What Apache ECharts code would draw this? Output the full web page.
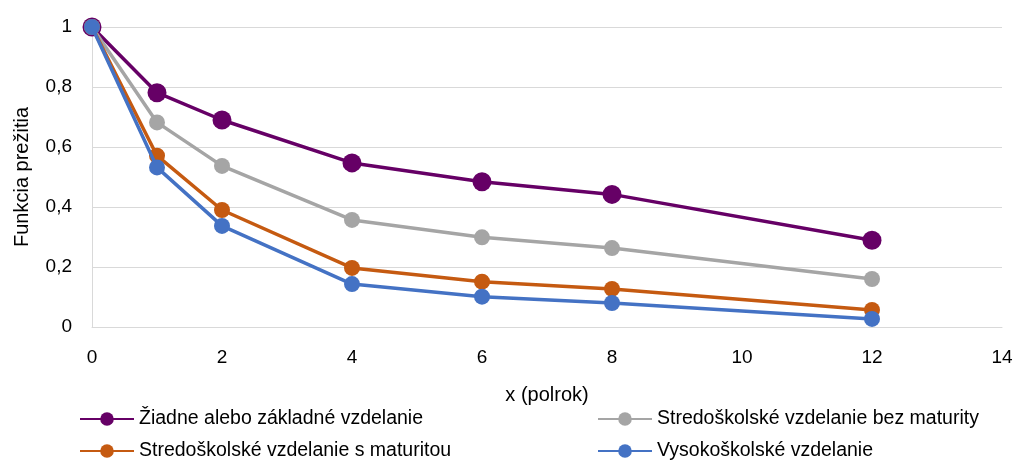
<!DOCTYPE html>
<html><head><meta charset="utf-8">
<script src="https://cdn.jsdelivr.net/npm/echarts@6/dist/echarts.min.js"></script>
<style>html,body{margin:0;padding:0;background:#fff}#c{width:1022px;height:464px}</style>
</head><body><div id="c"></div>
<script>
const xValues = [0, 1, 2, 4, 6, 8, 12];
const seriesNames = ['Žiadne alebo základné vzdelanie', 'Stredoškolské vzdelanie bez maturity', 'Stredoškolské vzdelanie s maturitou', 'Vysokoškolské vzdelanie'];
const zakladne = [1, 0.781, 0.69, 0.547, 0.484, 0.442, 0.289];
const bezMaturity = [1, 0.682, 0.537, 0.357, 0.299, 0.263, 0.16];
const sMaturitou = [1, 0.571, 0.39, 0.197, 0.151, 0.127, 0.057];
const vysokoskolske = [1, 0.532, 0.337, 0.143, 0.101, 0.08, 0.027];
const colors = ['#660066', '#A5A5A5', '#C55A11', '#4472C4'];
const sizes = [19, 16, 16, 16];
const allData = [zakladne, bezMaturity, sMaturitou, vysokoskolske];
const FONT = '"Liberation Sans Narrow", "Arial Narrow", "Liberation Sans", Arial, sans-serif';

// legend slot: [left, centerY]
const legendPos = [[79, 420], [597, 420], [79, 452], [597, 452]];

const chart = echarts.init(document.getElementById('c'), null, {renderer: 'canvas'});
chart.setOption({
  animation: false,
  textStyle: {fontFamily: FONT},
  grid: {left: 92, right: 20, top: 27, bottom: 137, containLabel: false, outerBoundsMode: 'none'},
  xAxis: {
    type: 'value', min: 0, max: 14, interval: 2,
    name: 'x (polrok)', nameLocation: 'middle', nameGap: 58,
    nameTextStyle: {fontSize: 20, color: '#000', fontFamily: FONT},
    axisLine: {show: true, lineStyle: {color: '#D9D9D9', width: 1}},
    axisTick: {show: false},
    splitLine: {show: false},
    axisLabel: {fontSize: 19, color: '#000', margin: 21, fontFamily: FONT}
  },
  yAxis: {
    type: 'value', min: 0, max: 1, interval: 0.2,
    name: 'Funkcia prežitia', nameLocation: 'middle', nameGap: 60, nameRotate: 90,
    nameTextStyle: {fontSize: 20, color: '#000', fontFamily: FONT},
    axisLine: {show: true, lineStyle: {color: '#D9D9D9', width: 1}},
    axisTick: {show: false},
    splitLine: {show: true, lineStyle: {color: '#D9D9D9', width: 1}},
    axisLabel: {fontSize: 19, color: '#000', margin: 20, fontFamily: FONT,
      formatter: v => String(Math.round(v * 10) / 10).replace('.', ',')}
  },
  legend: seriesNames.map((n, i) => ({
    data: [n], left: legendPos[i][0], top: legendPos[i][1] - 11, padding: 0,
    itemWidth: 54, itemHeight: 17,
    textStyle: {fontSize: 19.5, color: '#000', fontFamily: FONT}
  })),
  series: seriesNames.map((n, i) => ({
    name: n, type: 'line',
    data: xValues.map((x, j) => [x, allData[i][j]]),
    symbol: 'circle', symbolSize: sizes[i],
    lineStyle: {color: colors[i], width: 3.5},
    itemStyle: {color: colors[i]},
    z: 2 + i
  }))
});
</script></body></html>
